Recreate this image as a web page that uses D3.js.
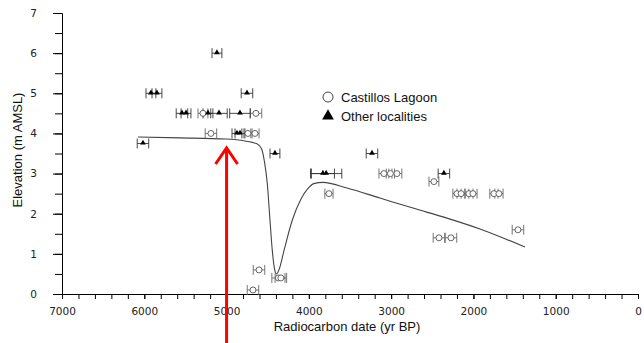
<!DOCTYPE html>
<html>
<head>
<meta charset="utf-8">
<script src="https://cdn.jsdelivr.net/npm/d3@7"></script>
<style>
  body { margin: 0; background: #fff; }
  .axis text { font-family: "DejaVu Sans", sans-serif; font-size: 10.5px; fill: #222; }
  .axis path, .axis line { stroke: #000; }
  .label { font-family: "Liberation Sans", Arial, sans-serif; font-size: 13px; fill: #111; }
</style>
</head>
<body>
<script>

// SVG Size
var width = 644,
    height = 343;

// Castillos Lagoon samples: age (yr BP), elevation (m), age error
var lagoonAge  = [5287, 4643, 5190, 4740, 4655, 3088, 3009, 2930, 2480, 3756, 2200, 2150, 2055, 2006, 1751, 1690, 1459, 2419, 2273, 4606, 4679, 4370, 4340];
var lagoonElev = [4.5,  4.5,  4.0,  4.0,  4.0,  3.0,  3.0,  3.0,  2.8,  2.5,  2.5,  2.5,  2.5,  2.5,  2.5,  2.5,  1.6,  1.4,  1.4,  0.6,  0.1,  0.4,  0.4];
var lagoonErr  = [60,   70,   70,   50,   50,   60,   50,   60,   60,   50,   50,   50,   50,   50,   50,   50,   70,   70,   70,   70,   70,   80,   70];

// Other localities
var otherAge  = [5117, 5919, 5846, 4752, 5542, 5493, 5226, 5092, 4837, 4874, 4837, 6016, 4412, 3829, 3790, 3233, 2359];
var otherElev = [6.0,  5.0,  5.0,  5.0,  4.5,  4.5,  4.5,  4.5,  4.5,  4.0,  4.0,  3.75, 3.5,  3.0,  3.0,  3.5,  3.0];
var otherErr  = [60,   60,   60,   70,   70,   60,   60,   100,  125,  60,   60,   70,   60,   140,  190,  70,   70];

// Fitted sea-level curve
var curveAge  = [6077, 5566, 5007, 4776, 4631, 4575, 4540, 4505, 4478, 4445, 4415, 4392, 4360, 4300, 4200, 4100, 4010, 3940, 3829, 3537, 3136, 2735, 2322, 1921, 1374];
var curveElev = [3.91, 3.89, 3.86, 3.81, 3.74, 3.62, 3.30, 2.75, 2.00, 1.10, 0.60, 0.50, 0.62, 1.10, 1.85, 2.35, 2.63, 2.75, 2.78, 2.64, 2.39, 2.14, 1.89, 1.62, 1.17];

var xTicks = [7000, 6000, 5000, 4000, 3000, 2000, 1000, 0];
var yTicks = [0, 1, 2, 3, 4, 5, 6, 7];

var legendLabels = ["Castillos Lagoon", "Other localities"];

var svg = d3.select("body").append("svg")
  .attr("width", width)
  .attr("height", height);

// Scales
var x = d3.scaleLinear().domain([7000, 0]).range([62, 638]);
var y = d3.scaleLinear().domain([0, 7]).range([294, 13]);

// Minor ticks first
svg.append("g")
  .attr("class", "axis")
  .attr("transform", "translate(0,294)")
  .call(d3.axisBottom(x).tickValues(d3.range(0, 7001, 200)).tickSize(5).tickSizeOuter(0).tickFormat(""));

svg.append("g")
  .attr("class", "axis")
  .attr("transform", "translate(62,0)")
  .call(d3.axisLeft(y).tickValues(d3.range(0, 7.01, 0.5)).tickSize(7).tickSizeOuter(0).tickFormat(""));

// Major ticks with labels
svg.append("g")
  .attr("class", "axis")
  .attr("transform", "translate(0,294)")
  .call(d3.axisBottom(x).tickValues(xTicks).tickSize(5).tickSizeOuter(0).tickPadding(9).tickFormat(d3.format("d")));

svg.append("g")
  .attr("class", "axis")
  .attr("transform", "translate(62,0)")
  .call(d3.axisLeft(y).tickValues(yTicks).tickSize(9).tickSizeOuter(0).tickPadding(16).tickFormat(d3.format("d")));

// Axis labels
svg.append("text")
  .attr("class", "label")
  .attr("x", 347)
  .attr("y", 331)
  .attr("text-anchor", "middle")
  .text("Radiocarbon date (yr BP)");

svg.append("text")
  .attr("class", "label")
  .attr("transform", "translate(22,150) rotate(-90)")
  .attr("text-anchor", "middle")
  .text("Elevation (m AMSL)");

// Curve
var curveData = curveAge.map(function(a, i) { return {age: a, elev: curveElev[i]}; });
var line = d3.line()
  .x(function(d) { return x(d.age); })
  .y(function(d) { return y(d.elev); })
  .curve(d3.curveMonotoneX);

svg.append("path")
  .datum(curveData)
  .attr("d", line)
  .attr("fill", "none")
  .attr("stroke", "#444")
  .attr("stroke-width", 1.1);

// Error bars
function errorBars(ages, elevs, errs, color) {
  var g = svg.append("g").attr("stroke", color).attr("stroke-width", 0.9);
  ages.forEach(function(a, i) {
    var yy = y(elevs[i]);
    var x0 = x(a + errs[i]), x1 = x(a - errs[i]);
    g.append("line").attr("x1", x0).attr("x2", x1).attr("y1", yy).attr("y2", yy);
    g.append("line").attr("x1", x0).attr("x2", x0).attr("y1", yy - 5).attr("y2", yy + 5);
    g.append("line").attr("x1", x1).attr("x2", x1).attr("y1", yy - 5).attr("y2", yy + 5);
  });
}

errorBars(lagoonAge, lagoonElev, lagoonErr, "#666");
errorBars(otherAge, otherElev, otherErr, "#333");

// Lagoon circles
svg.selectAll("circle.lagoon")
  .data(lagoonAge)
  .enter()
  .append("circle")
  .attr("class", "lagoon")
  .attr("cx", function(d) { return x(d); })
  .attr("cy", function(d, i) { return y(lagoonElev[i]); })
  .attr("r", 3)
  .attr("fill", "#fff")
  .attr("stroke", "#555")
  .attr("stroke-width", 0.9);

// Other triangles
var tri = d3.symbol().type(d3.symbolTriangle).size(14);
svg.selectAll("path.other")
  .data(otherAge)
  .enter()
  .append("path")
  .attr("class", "other")
  .attr("d", tri)
  .attr("transform", function(d, i) { return "translate(" + x(d) + "," + (y(otherElev[i]) - 0.5) + ")"; })
  .attr("fill", "#000");

// Legend
var legend = svg.append("g").attr("transform", "translate(328,97)");
legend.append("circle")
  .attr("r", 5)
  .attr("fill", "#fff")
  .attr("stroke", "#444");
legend.append("path")
  .attr("d", d3.symbol().type(d3.symbolTriangle).size(60))
  .attr("transform", "translate(0,19)")
  .attr("fill", "#000");
legend.selectAll("text")
  .data(legendLabels)
  .enter()
  .append("text")
  .attr("class", "label")
  .attr("x", 13)
  .attr("y", function(d, i) { return i * 19 + 5; })
  .text(function(d) { return d; });

// Red arrow at 5000 yr BP
var ax = x(5000);
var arrow = svg.append("g")
  .attr("stroke", "#ff0000")
  .attr("stroke-width", 3)
  .attr("fill", "none");
arrow.append("line")
  .attr("x1", ax).attr("x2", ax)
  .attr("y1", 343).attr("y2", 148);
arrow.append("path")
  .attr("d", "M" + (ax - 11) + ",164 L" + ax + ",148 L" + (ax + 11) + ",164");

</script>
</body>
</html>
